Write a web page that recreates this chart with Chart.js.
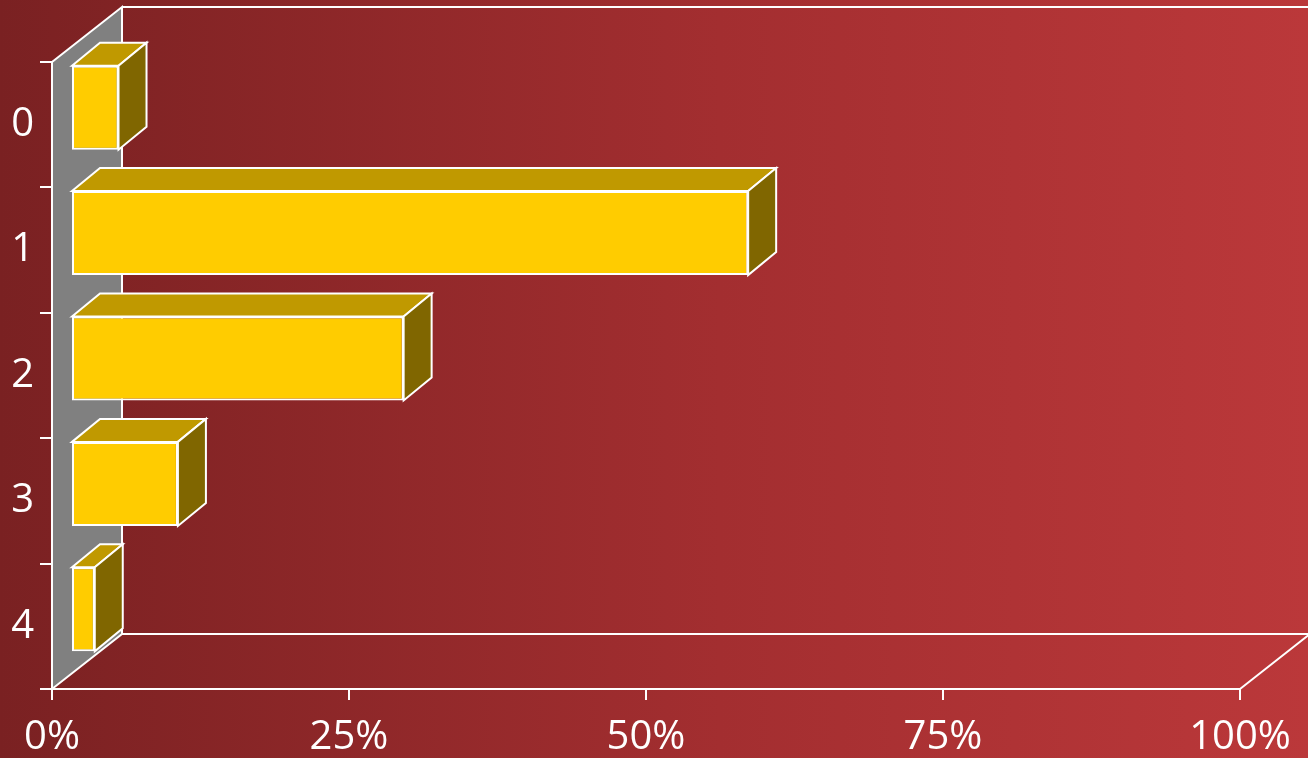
<!DOCTYPE html>
<html lang="en">
<head>
    <meta charset="UTF-8">
    <title>3D Bar Chart</title>
    <script src="https://cdn.jsdelivr.net/npm/chart.js"></script>
    <style>
        html, body {
            margin: 0;
            padding: 0;
        }
        body {
            width: 1308px;
            height: 758px;
            overflow: hidden;
            background: linear-gradient(to right, #7a2122 0%, #a32e30 55%, #bb383a 100%);
        }
        #wrap {
            width: 1308px;
            height: 758px;
        }
    </style>
</head>
<body>
    <div id="wrap"><canvas id="chart"></canvas></div>

    <script>
        // Chart data
        const categories = ['0', '1', '2', '3', '4'];
        const shares = [4, 57, 28, 9, 2];
        const xTicks = [0, 25, 50, 75, 100];

        // 3D look
        const wallDepth = { dx: 70, dy: -55 };
        const barShift = { dx: 19, dy: -17 };
        const barDepth = { dx: 28, dy: -23 };

        function poly(ctx, pts, fill) {
            ctx.beginPath();
            ctx.moveTo(pts[0][0], pts[0][1]);
            for (let i = 1; i < pts.length; i++) ctx.lineTo(pts[i][0], pts[i][1]);
            ctx.closePath();
            if (fill) {
                ctx.fillStyle = fill;
                ctx.fill();
            }
            ctx.stroke();
        }

        const box3d = {
            id: 'box3d',
            beforeDatasetsDraw(chart) {
                const ctx = chart.ctx;
                const xs = chart.scales.x;
                const ys = chart.scales.y;
                const x0 = xs.getPixelForValue(0);
                const x1 = xs.getPixelForValue(100);
                const top = ys.top;
                const bottom = ys.bottom;
                const dx = wallDepth.dx, dy = wallDepth.dy;

                ctx.save();
                ctx.strokeStyle = '#ffffff';
                ctx.lineWidth = 2;

                // left wall
                poly(ctx, [[x0, top], [x0 + dx, top + dy], [x0 + dx, bottom + dy], [x0, bottom]], '#808080');

                // back wall top edge
                ctx.beginPath();
                ctx.moveTo(x0 + dx, top + dy);
                ctx.lineTo(chart.width + 5, top + dy);
                ctx.stroke();

                // floor
                ctx.beginPath();
                ctx.moveTo(x0 + dx, bottom + dy);
                ctx.lineTo(x1 + dx, bottom + dy);
                ctx.lineTo(x1, bottom);
                ctx.stroke();
                ctx.restore();

                // bars sit a little behind the front plane
                ctx.save();
                ctx.translate(barShift.dx, barShift.dy);
            },
            afterDatasetsDraw(chart) {
                const ctx = chart.ctx;
                const meta = chart.getDatasetMeta(0);
                const dx = barDepth.dx, dy = barDepth.dy;
                ctx.strokeStyle = '#ffffff';
                ctx.lineWidth = 2;
                meta.data.forEach(bar => {
                    const p = bar.getProps(['x', 'y', 'base', 'height'], true);
                    const l = p.base, r = p.x;
                    const t = p.y - p.height / 2, b = p.y + p.height / 2;
                    poly(ctx, [[l, t], [l + dx, t + dy], [r + dx, t + dy], [r, t]], '#c09900');
                    poly(ctx, [[r, t], [r + dx, t + dy], [r + dx, b + dy], [r, b]], '#806600');
                });
                ctx.restore();
            }
        };

        const labelFont = { family: "'Open Sans', sans-serif", size: 40 };

        new Chart(document.getElementById('chart'), {
            type: 'bar',
            data: {
                labels: categories,
                datasets: [{
                    data: shares,
                    backgroundColor: '#ffcc00',
                    borderColor: '#ffffff',
                    borderWidth: 2,
                    borderSkipped: false,
                    categoryPercentage: 1,
                    barPercentage: 0.67,
                    clip: false
                }]
            },
            options: {
                indexAxis: 'y',
                responsive: true,
                maintainAspectRatio: false,
                animation: false,
                layout: { padding: { top: 62, right: 68, left: 0, bottom: 0 } },
                plugins: {
                    legend: { display: false },
                    tooltip: { enabled: false }
                },
                scales: {
                    x: {
                        min: 0,
                        max: 100,
                        afterBuildTicks: s => { s.ticks = xTicks.map(v => ({ value: v })); },
                        afterFit: s => { s.height = 69; },
                        ticks: {
                            color: '#ffffff',
                            font: labelFont,
                            padding: 14,
                            maxRotation: 0,
                            callback: v => v + '%'
                        },
                        grid: {
                            drawOnChartArea: false,
                            color: '#ffffff',
                            lineWidth: 2,
                            tickLength: 11
                        },
                        border: { color: '#ffffff', width: 2 }
                    },
                    y: {
                        afterFit: s => { s.width = 52; },
                        ticks: {
                            color: '#ffffff',
                            font: labelFont,
                            padding: 6
                        },
                        grid: {
                            offset: true,
                            drawOnChartArea: false,
                            color: '#ffffff',
                            lineWidth: 2,
                            tickLength: 12
                        },
                        border: { color: '#ffffff', width: 2 }
                    }
                }
            },
            plugins: [box3d]
        });
    </script>
</body>
</html>
